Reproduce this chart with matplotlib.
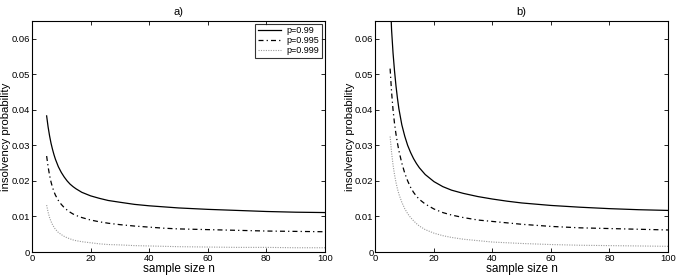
import numpy as np
import matplotlib
matplotlib.use('Agg')
import matplotlib.pyplot as plt

plt.rcParams['font.family'] = ['Liberation Sans', 'DejaVu Sans']

# sample sizes
N = [5, 5.5, 6, 6.5, 7, 7.5, 8, 9, 10, 11, 12, 13, 14, 15, 17, 20, 23, 26, 30,
     35, 40, 45, 50, 60, 70, 80, 90, 100]

# panel a)
A_P99  = [0.0383, 0.0352, 0.0327, 0.0306, 0.0289, 0.0274, 0.0261, 0.0240, 0.0224, 0.0211,
          0.0200, 0.0191, 0.0184, 0.0178, 0.0168, 0.0158, 0.0151, 0.0145, 0.0140,
          0.0134, 0.0130, 0.0127, 0.0124, 0.0120, 0.0117, 0.0114, 0.0112, 0.0111]
A_P995 = [0.0270, 0.0240, 0.0216, 0.0197, 0.0182, 0.0170, 0.0160, 0.0145, 0.0134, 0.0125,
          0.0118, 0.0112, 0.0107, 0.0103, 0.0097, 0.0090, 0.0085, 0.0081, 0.0077,
          0.0073, 0.0070, 0.0067, 0.0065, 0.0063, 0.0061, 0.0059, 0.0058, 0.0057]
A_P999 = [0.0132, 0.0112, 0.0097, 0.0086, 0.0077, 0.0070, 0.0064, 0.0055, 0.0049, 0.0044,
          0.0040, 0.0037, 0.0034, 0.0032, 0.0029, 0.0026, 0.0023, 0.0021, 0.0020,
          0.0018, 0.0017, 0.0016, 0.0015, 0.0014, 0.0013, 0.0013, 0.0012, 0.0012]

# panel b)
B_P99  = [0.0730, 0.0625, 0.0560, 0.0510, 0.0468, 0.0433, 0.0403, 0.0358, 0.0326, 0.0300,
          0.0280, 0.0263, 0.0249, 0.0237, 0.0218, 0.0198, 0.0184, 0.0174, 0.0165,
          0.0156, 0.0149, 0.0143, 0.0138, 0.0131, 0.0126, 0.0122, 0.0119, 0.0117]
B_P995 = [0.0516, 0.0450, 0.0400, 0.0362, 0.0332, 0.0307, 0.0285, 0.0250, 0.0222, 0.0200,
          0.0182, 0.0168, 0.0157, 0.0148, 0.0135, 0.0121, 0.0111, 0.0104, 0.0097,
          0.0090, 0.0086, 0.0082, 0.0078, 0.0072, 0.0068, 0.0066, 0.0064, 0.0062]
B_P999 = [0.0325, 0.0280, 0.0245, 0.0218, 0.0196, 0.0178, 0.0163, 0.0140, 0.0122, 0.0108,
          0.0097, 0.0088, 0.0080, 0.0073, 0.0063, 0.0053, 0.0046, 0.0041, 0.0036,
          0.0032, 0.0028, 0.0026, 0.0024, 0.0021, 0.0019, 0.0018, 0.0017, 0.0016]

LABELS = ['p=0.99', 'p=0.995', 'p=0.999']
STYLES = [dict(color='black', lw=0.9, ls='-'),
          dict(color='black', lw=0.9, ls=(0, (4, 2.5, 1, 2.5))),
          dict(color='#9a9a9a', lw=0.8, ls=(0, (1, 1.2)))]

XTICKS = [0, 20, 40, 60, 80, 100]
YTICKS = [0, 0.01, 0.02, 0.03, 0.04, 0.05, 0.06]
YTICKLABELS = ['0', '0.01', '0.02', '0.03', '0.04', '0.05', '0.06']

fig = plt.figure(figsize=(6.79, 2.78), dpi=100)
ax_a = fig.add_axes([0.0471, 0.0935, 0.4315, 0.831])
ax_b = fig.add_axes([0.5530, 0.0935, 0.4308, 0.831])

panels = [(ax_a, 'a)', [A_P99, A_P995, A_P999]),
          (ax_b, 'b)', [B_P99, B_P995, B_P999])]

for ax, title, series in panels:
    for ys, lab, st in zip(series, LABELS, STYLES):
        ax.plot(N, ys, label=lab, **st)
    ax.set_xlim(0, 100)
    ax.set_ylim(0, 0.065)
    ax.set_xticks(XTICKS)
    ax.set_yticks(YTICKS)
    ax.set_yticklabels(YTICKLABELS)
    ax.tick_params(direction='in', top=True, right=True, labelsize=6.8,
                   length=3, width=0.6, pad=1.5)
    for sp in ax.spines.values():
        sp.set_linewidth(0.8)
    ax.set_xlabel('sample size n', fontsize=8.5, labelpad=0)
    ax.set_ylabel('insolvency probability', fontsize=8.2, labelpad=0)
    ax.set_title(title, fontsize=8, pad=4)

leg = ax_a.legend(loc='upper right', fontsize=6.5, frameon=True, fancybox=False,
                  borderpad=0.3, labelspacing=0.1, handlelength=2.6,
                  handletextpad=0.6, borderaxespad=0.3)
leg.get_frame().set_edgecolor('black')
leg.get_frame().set_linewidth(0.8)

fig.savefig('out.png', dpi=100)
